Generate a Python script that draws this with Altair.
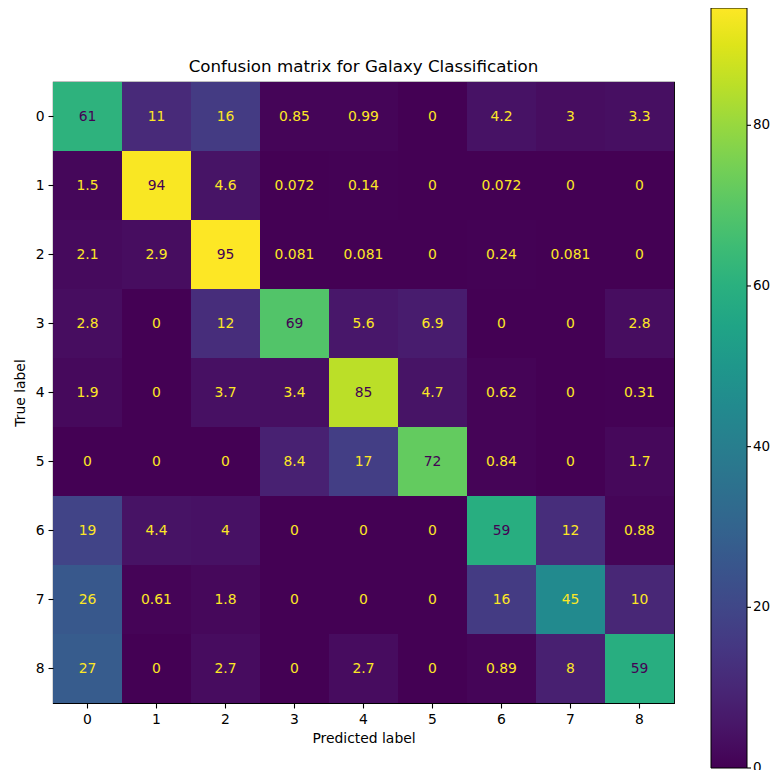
import altair as alt
import pandas as pd

classes = ["0", "1", "2", "3", "4", "5", "6", "7", "8"]

row0 = [61, 11, 16, 0.85, 0.99, 0, 4.2, 3, 3.3]
row1 = [1.5, 94, 4.6, 0.072, 0.14, 0, 0.072, 0, 0]
row2 = [2.1, 2.9, 94.6, 0.081, 0.081, 0, 0.24, 0.081, 0]
row3 = [2.8, 0, 12, 69, 5.6, 6.9, 0, 0, 2.8]
row4 = [1.9, 0, 3.7, 3.4, 85, 4.7, 0.62, 0, 0.31]
row5 = [0, 0, 0, 8.4, 17, 72, 0.84, 0, 1.7]
row6 = [19, 4.4, 4, 0, 0, 0, 59, 12, 0.88]
row7 = [26, 0.61, 1.8, 0, 0, 0, 16, 45, 10]
row8 = [27, 0, 2.7, 0, 2.7, 0, 0.89, 8, 59]
matrix = [row0, row1, row2, row3, row4, row5, row6, row7, row8]

cbar_ticks = [0, 20, 40, 60, 80]
title_text = ["Confusion matrix for Galaxy Classification"]

records = []
for i, t in enumerate(classes):
    for j, p in enumerate(classes):
        records.append({"true": t, "pred": p, "value": matrix[i][j]})
df = pd.DataFrame(records)

vmax = max(max(r) for r in matrix)
thr = vmax / 2.0

font = "DejaVu Sans"
W = 621
H = 621
PAD_L = 45
PAD_T = 74
PAD_R = 763 - PAD_L - W
PAD_B = 67
cb_x = 658
cb_top = -74
cb_len = 760
cb_w = 36

base = alt.Chart(df).encode(
    x=alt.X("pred:N", sort=classes, title="Predicted label",
            scale=alt.Scale(domain=classes)),
    y=alt.Y("true:N", sort=classes, title="True label",
            scale=alt.Scale(domain=classes)),
)

heat = base.mark_rect().encode(
    color=alt.Color(
        "value:Q",
        scale=alt.Scale(scheme="viridis", domain=[0, vmax], nice=False),
        legend=alt.Legend(
            title=None, orient="none", legendX=cb_x, legendY=cb_top,
            direction="vertical", gradientLength=cb_len,
            gradientThickness=cb_w, gradientStrokeColor="black",
            gradientStrokeWidth=1, labelExpr="''", labelOpacity=0,
        ),
    )
)

text = base.mark_text(fontSize=13.9, font=font).encode(
    text=alt.Text("value:Q", format=".2~g"),
    color=alt.when(alt.datum.value >= thr)
    .then(alt.value("#440154"))
    .otherwise(alt.value("#fde725")),
)

tick_df = pd.DataFrame({"v": cbar_ticks})
cb_scale = alt.Scale(domain=[0, vmax], range=[cb_top + cb_len, cb_top],
                     nice=False, zero=False)

ticks = alt.Chart(tick_df).mark_rule(color="black", strokeWidth=1.1).encode(
    y=alt.Y("v:Q", scale=cb_scale, axis=None),
    x=alt.value(cb_x + cb_w),
    x2=alt.value(cb_x + cb_w + 4),
)

tlabels = alt.Chart(tick_df).mark_text(
    align="left", baseline="middle", fontSize=13.5, font=font, color="black"
).encode(
    y=alt.Y("v:Q", scale=cb_scale, axis=None),
    x=alt.value(cb_x + cb_w + 6),
    text=alt.Text("v:Q"),
)

title_df = pd.DataFrame({"t": title_text})
title = alt.Chart(title_df).mark_text(
    align="center", baseline="alphabetic", fontSize=16.7, font=font,
    color="black",
).encode(
    x=alt.value(W / 2),
    y=alt.value(-10),
    text=alt.Text("t:N"),
)

chart = alt.layer(
    alt.layer(heat, text), ticks, tlabels, title
).resolve_scale(y="independent").properties(
    width=W,
    height=H,
    autosize=alt.AutoSizeParams(type="none"),
    padding={"left": PAD_L, "top": PAD_T, "right": PAD_R, "bottom": PAD_B},
).configure_view(
    stroke="black", strokeWidth=1.1
).configure_axis(
    domain=False, grid=False, labelFont=font, titleFont=font,
    labelFontSize=13.9, titleFontSize=13.9, labelColor="black",
    titleColor="black", tickColor="black", tickSize=5, tickWidth=1.1,
    labelPadding=4, titleFontWeight="normal",
).configure_axisX(
    labelAngle=0, titlePadding=6
).configure_axisY(
    labelAngle=0, titlePadding=8
)

chart.save("out.html", embed_options={"renderer": "svg", "actions": False})
